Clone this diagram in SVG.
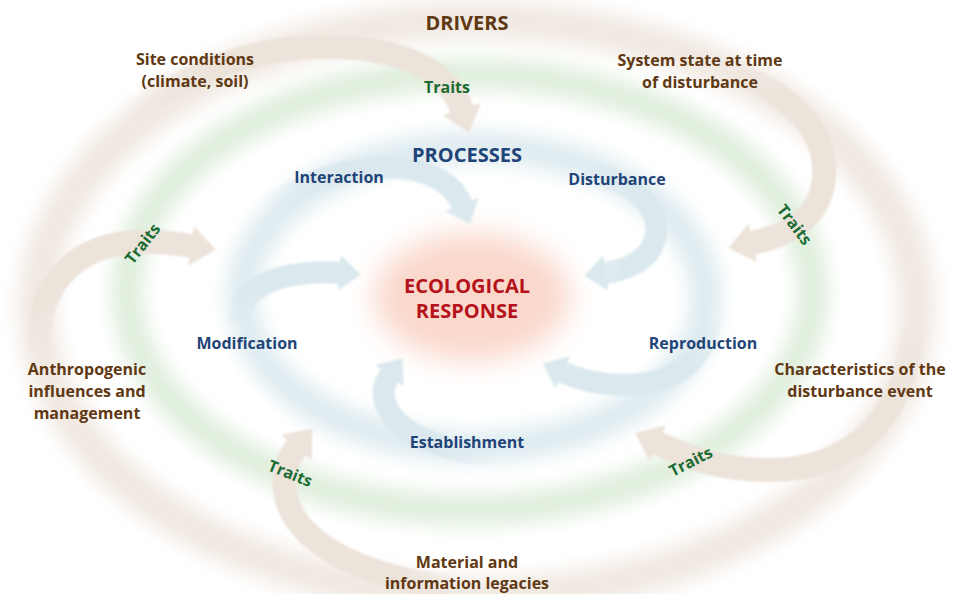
<svg xmlns="http://www.w3.org/2000/svg" width="954" height="594" viewBox="0 0 954 594">
<defs>
<filter id="blurBig" x="-20%" y="-20%" width="140%" height="140%"><feGaussianBlur stdDeviation="9"/></filter>
<filter id="blurRed" x="-40%" y="-40%" width="180%" height="180%"><feGaussianBlur stdDeviation="14"/></filter>
<filter id="soft" x="-10%" y="-10%" width="120%" height="120%"><feGaussianBlur stdDeviation="0.8"/></filter>
<marker id="tanHead" markerUnits="userSpaceOnUse" markerWidth="30" markerHeight="44" viewBox="0 -22 30 44" refX="1" refY="0" orient="auto"><path d="M0,-20 L25,0 L0,20 Z" fill="#ece3da"/></marker>
<marker id="blueHead" markerUnits="userSpaceOnUse" markerWidth="28" markerHeight="40" viewBox="0 -20 28 40" refX="1" refY="0" orient="auto"><path d="M0,-18 L22,0 L0,18 Z" fill="#dbe9ee"/></marker>
<linearGradient id="gA1" gradientUnits="userSpaceOnUse" x1="125" y1="122" x2="215" y2="62"><stop offset="0" stop-color="#ece3da" stop-opacity="0"/><stop offset="1" stop-color="#ece3da"/></linearGradient>
<linearGradient id="gA2" gradientUnits="userSpaceOnUse" x1="715" y1="66" x2="795" y2="100"><stop offset="0" stop-color="#ece3da" stop-opacity="0"/><stop offset="1" stop-color="#ece3da"/></linearGradient>
<linearGradient id="gA3" gradientUnits="userSpaceOnUse" x1="40" y1="350" x2="48" y2="285"><stop offset="0" stop-color="#ece3da" stop-opacity="0.2"/><stop offset="1" stop-color="#ece3da"/></linearGradient>
<linearGradient id="gA4" gradientUnits="userSpaceOnUse" x1="450" y1="586" x2="390" y2="578"><stop offset="0" stop-color="#ece3da" stop-opacity="0.3"/><stop offset="1" stop-color="#ece3da"/></linearGradient>
<linearGradient id="gA5" gradientUnits="userSpaceOnUse" x1="913" y1="330" x2="895" y2="420"><stop offset="0" stop-color="#ece3da" stop-opacity="0.2"/><stop offset="1" stop-color="#ece3da"/></linearGradient>
<linearGradient id="gB1" gradientUnits="userSpaceOnUse" x1="265" y1="210" x2="335" y2="168"><stop offset="0" stop-color="#dbe9ee" stop-opacity="0"/><stop offset="1" stop-color="#dbe9ee"/></linearGradient>
<linearGradient id="gB2" gradientUnits="userSpaceOnUse" x1="580" y1="171" x2="645" y2="192"><stop offset="0" stop-color="#dbe9ee" stop-opacity="0"/><stop offset="1" stop-color="#dbe9ee"/></linearGradient>
<linearGradient id="gB3" gradientUnits="userSpaceOnUse" x1="713" y1="312" x2="698" y2="368"><stop offset="0" stop-color="#dbe9ee" stop-opacity="0"/><stop offset="1" stop-color="#dbe9ee"/></linearGradient>
<linearGradient id="gB4" gradientUnits="userSpaceOnUse" x1="495" y1="456" x2="435" y2="448"><stop offset="0" stop-color="#dbe9ee" stop-opacity="0"/><stop offset="1" stop-color="#dbe9ee"/></linearGradient>
<linearGradient id="gB5" gradientUnits="userSpaceOnUse" x1="237" y1="328" x2="250" y2="288"><stop offset="0" stop-color="#dbe9ee" stop-opacity="0"/><stop offset="1" stop-color="#dbe9ee"/></linearGradient>
<style>
.t{font-family:"Open Sans","Noto Sans","Liberation Sans",sans-serif;font-weight:bold;text-anchor:middle}
.drv{fill:#603813;font-size:16px}
.prc{fill:#1f4477;font-size:16px}
.eco{fill:#b5121b;font-size:20px}
.trt{fill:#1b6b33;font-size:16px}
.hd{font-size:20px}
.tanA{fill:none;stroke-width:24;marker-end:url(#tanHead)}
.blueA{fill:none;stroke-width:22;marker-end:url(#blueHead)}
</style>
</defs>
<rect width="954" height="594" fill="#ffffff"/>
<g id="rings">
<ellipse cx="477" cy="308" rx="440" ry="288" fill="none" stroke="#f1e9e2" stroke-width="38" filter="url(#blurBig)"/>
<ellipse cx="470" cy="292" rx="343" ry="218" fill="none" stroke="#e0efdd" stroke-width="32" filter="url(#blurBig)"/>
<ellipse cx="474" cy="297" rx="232" ry="150" fill="none" stroke="#dfecf0" stroke-width="32" filter="url(#blurBig)"/>
</g>
<g id="center">
<ellipse cx="472" cy="297" rx="98" ry="64" fill="#fad8cc" filter="url(#blurRed)"/>
</g>
<g id="connectors" filter="url(#soft)">
<path class="tanA" stroke="url(#gA1)" d="M125,122 C185,68 265,45 335,47 C405,49 450,72 462,110"/>
<path class="tanA" stroke="url(#gA2)" d="M715,66 C790,90 828,130 824,178 C820,218 790,235 752,243"/>
<path class="tanA" stroke="url(#gA3)" d="M40,350 C35,290 70,250 125,243 C150,240 172,243 192,246"/>
<path class="tanA" stroke="url(#gA4)" d="M450,586 C360,578 290,540 285,490 C283,470 288,458 297,447"/>
<path class="tanA" stroke="url(#gA5)" d="M913,330 C905,420 850,470 770,470 C720,470 690,458 657,443"/>
<path class="blueA" stroke="url(#gB1)" d="M265,210 C320,168 400,155 440,180 C452,187 458,195 462,205"/>
<path class="blueA" stroke="url(#gB2)" d="M580,171 C640,180 668,215 652,247 C643,263 625,270 605,273"/>
<path class="blueA" stroke="url(#gB3)" d="M713,312 C705,365 670,385 625,385 C600,385 580,380 562,372"/>
<path class="blueA" stroke="url(#gB4)" d="M495,456 C440,450 393,432 385,402 C382,390 384,383 390,375"/>
<path class="blueA" stroke="url(#gB5)" d="M237,328 C240,292 265,278 300,274 C315,272 328,272 340,273"/>
</g>
<g id="drivers"><text class="t drv hd" x="467" y="30">DRIVERS</text></g>
<g id="site"><text class="t drv" x="195" y="65">Site conditions</text><text class="t drv" x="195" y="87">(climate, soil)</text></g>
<g id="system"><text class="t drv" x="700" y="66">System state at time</text><text class="t drv" x="700" y="88">of disturbance</text></g>
<g id="anthro"><text class="t drv" x="87" y="375">Anthropogenic</text><text class="t drv" x="87" y="397">influences and</text><text class="t drv" x="87" y="419">management</text></g>
<g id="charac"><text class="t drv" x="860" y="375">Characteristics of the</text><text class="t drv" x="860" y="397">disturbance event</text></g>
<g id="material"><text class="t drv" x="467" y="568">Material and</text><text class="t drv" x="467" y="589">information legacies</text></g>
<g id="processes"><text class="t prc hd" x="467" y="162">PROCESSES</text></g>
<g id="interaction"><text class="t prc" x="339" y="183">Interaction</text></g>
<g id="disturbance"><text class="t prc" x="617" y="185">Disturbance</text></g>
<g id="modification"><text class="t prc" x="247" y="349">Modification</text></g>
<g id="reproduction"><text class="t prc" x="703" y="349">Reproduction</text></g>
<g id="establishment"><text class="t prc" x="467" y="448">Establishment</text></g>
<g id="response"><text class="t eco" x="467" y="293">ECOLOGICAL</text><text class="t eco" x="467" y="318">RESPONSE</text></g>
<g id="traits">
<text class="t trt" x="447" y="93">Traits</text>
<text class="t trt" transform="translate(143,244) rotate(-52)" x="0" y="5">Traits</text>
<text class="t trt" transform="translate(794,225) rotate(53)" x="0" y="5">Traits</text>
<text class="t trt" transform="translate(290,474) rotate(22)" x="0" y="5">Traits</text>
<text class="t trt" transform="translate(691,462) rotate(-27)" x="0" y="5">Traits</text>
</g>
</svg>
